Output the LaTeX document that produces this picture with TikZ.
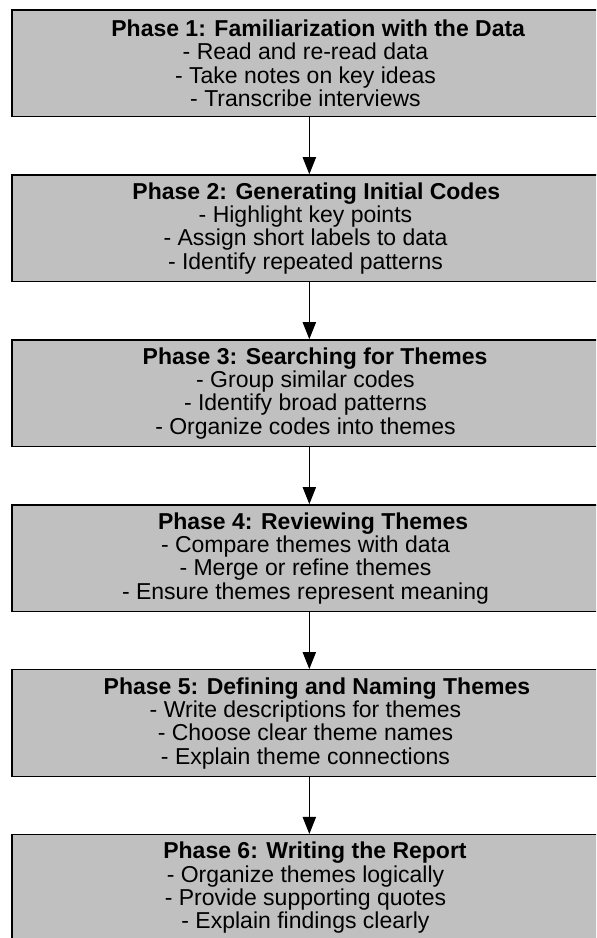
\documentclass[tikz,border=0pt]{standalone}
\usepackage{fontspec}
\setmainfont{Liberation Sans}
\usepackage{calc}
\usetikzlibrary{arrows.meta, positioning}
\definecolor{boxgray}{RGB}{192, 192, 192}

% bold heading, laid out over the width of its regular weight
\newcommand{\phasehead}[1]{\makebox[\widthof{#1}][l]{\bfseries #1}}

\begin{document}
\begin{tikzpicture}[
    phase/.style={draw=black, line width=1.1pt, fill=boxgray, align=center,
        minimum width=440.2pt, minimum height=80pt, inner sep=0pt,
        font=\fontsize{17.25}{17.5}\selectfont},
    flow/.style={-{Triangle[length=12.75pt, width=10pt]}, line width=0.75pt},
    node distance=42.6pt
]
\clip (0,0) rectangle (447pt,-703.5pt);

% Phase boxes
\node[phase] (p1) at (229.1pt,-47.5pt) {\phasehead{Phase 1: Familiarization with the Data}\\
    - Read and re-read data\\- Take notes on key ideas\\- Transcribe interviews};
\node[phase, below=of p1] (p2) {\phasehead{Phase 2: Generating Initial Codes}\\
    - Highlight key points\\- Assign short labels to data\\- Identify repeated patterns};
\node[phase, below=of p2] (p3) {\phasehead{Phase 3: Searching for Themes}\\
    - Group similar codes\\- Identify broad patterns\\- Organize codes into themes};
\node[phase, below=of p3] (p4) {\phasehead{Phase 4: Reviewing Themes}\\
    - Compare themes with data\\- Merge or refine themes\\- Ensure themes represent meaning};
\node[phase, below=of p4] (p5) {\phasehead{Phase 5: Defining and Naming Themes}\\
    - Write descriptions for themes\\- Choose clear theme names\\- Explain theme connections};
\node[phase, below=of p5] (p6) {\phasehead{Phase 6: Writing the Report}\\
    - Organize themes logically\\- Provide supporting quotes\\- Explain findings clearly};

% Arrows between phases
\foreach \a/\b in {p1/p2, p2/p3, p3/p4, p4/p5, p5/p6}
    \draw[flow] ([xshift=2.9pt]\a.south) -- ([xshift=2.9pt]\b.north);
\end{tikzpicture}
\end{document}
